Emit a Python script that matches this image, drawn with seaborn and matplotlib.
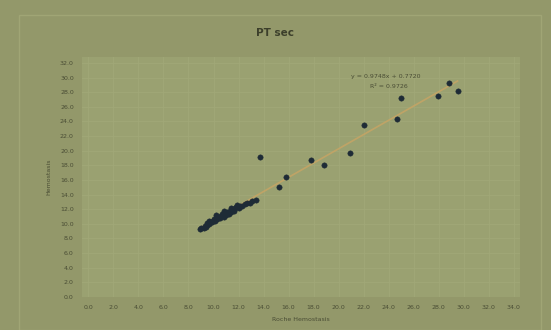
import numpy as np
import pandas as pd
import matplotlib
matplotlib.use("Agg")
import matplotlib.pyplot as plt
from matplotlib.patches import Rectangle
import seaborn as sns

# Data
x_cluster = [8.9, 9.0, 9.2, 9.3, 9.4, 9.5, 9.5, 9.6, 9.7, 9.8, 9.9, 10.0, 10.0, 10.1,
             10.2, 10.3, 10.3, 10.4, 10.5, 10.6, 10.7, 10.8, 10.9, 11.0, 11.0, 11.1,
             11.2, 11.3, 11.4, 11.5, 11.6, 11.7, 11.8, 12.0, 12.1, 12.3, 12.5, 12.7,
             12.9, 13.1, 13.4, 9.6, 10.2, 10.8, 11.4, 11.9]
y_cluster = [9.3, 9.4, 9.5, 9.7, 9.6, 9.9, 10.1, 10.0, 10.2, 10.3, 10.2, 10.5, 10.7, 10.4,
             10.6, 10.9, 10.7, 11.0, 10.8, 11.1, 11.3, 11.0, 11.4, 11.5, 11.2, 11.6,
             11.4, 11.8, 11.6, 12.0, 11.8, 12.1, 12.3, 12.1, 12.5, 12.4, 12.7, 12.9,
             12.8, 13.1, 13.3, 10.4, 11.2, 11.7, 12.2, 12.6]
x_outer = [13.7, 15.2, 15.8, 17.8, 18.8, 20.9, 22.0, 24.7, 25.0, 27.9, 28.8, 29.5]
y_outer = [19.2, 15.1, 16.4, 18.7, 18.1, 19.7, 23.5, 24.4, 27.2, 27.5, 29.2, 28.1]

title = "PT sec"
x_label = "Roche Hemostasis"
y_label = "Hemostasis"
x_ticks = list(range(0, 35, 2))
y_ticks = list(range(0, 33, 2))

df = pd.DataFrame({"x": x_cluster + x_outer, "y": y_cluster + y_outer})

fig_bg = "#93986a"
ax_bg = "#9aa171"
text_c = "#4a4d35"

fig = plt.figure(figsize=(5.51, 3.30), dpi=100, facecolor=fig_bg)
fig.patches.append(Rectangle((0.034, 0.0), 0.948, 0.955, transform=fig.transFigure,
                             fill=False, edgecolor="#a0a575", lw=1.0))
ax = fig.add_axes([0.149, 0.10, 0.795, 0.727], facecolor=ax_bg)

sns.regplot(data=df, x="x", y="y", ax=ax, ci=None, scatter=False,
            line_kws=dict(color="#c4a465", lw=1.2, alpha=0.9))
sns.scatterplot(data=df, x="x", y="y", ax=ax, color="#1e2b36", s=15,
                edgecolor="#1e2b36", linewidth=0.3, zorder=3)

slope, intercept = np.polyfit(df["x"], df["y"], 1)
r2 = np.corrcoef(df["x"], df["y"])[0, 1] ** 2
sign = "+" if intercept >= 0 else "-"
ax.text(23.8, 30.2, f"y = {slope:.4f}x {sign} {abs(intercept):.4f}",
        fontsize=4.5, color=text_c, ha="center", va="center")
ax.text(24.0, 28.8, f"R² = {r2:.4f}", fontsize=4.5, color=text_c,
        ha="center", va="center")

ax.set_xlim(-0.5, 34.5)
ax.set_ylim(0, 32.8)
ax.set_xticks(x_ticks)
ax.set_yticks(y_ticks)
ax.set_xticklabels([f"{v:.1f}" for v in x_ticks])
ax.set_yticklabels([f"{v:.1f}" for v in y_ticks])
ax.tick_params(axis="both", labelsize=4.5, colors=text_c, length=0, pad=6)
ax.grid(True, color="#a1a878", lw=0.6)
ax.set_axisbelow(True)
for s in ax.spines.values():
    s.set_visible(False)
ax.set_xlabel(x_label, fontsize=4.5, color=text_c, labelpad=5)
ax.set_ylabel(y_label, fontsize=4.5, color=text_c, labelpad=6)
fig.text(0.5, 0.90, title, fontsize=7.5, color="#3c3f2b", ha="center",
         va="center", fontweight="bold")

fig.savefig("out.png", dpi=100, facecolor=fig_bg)
